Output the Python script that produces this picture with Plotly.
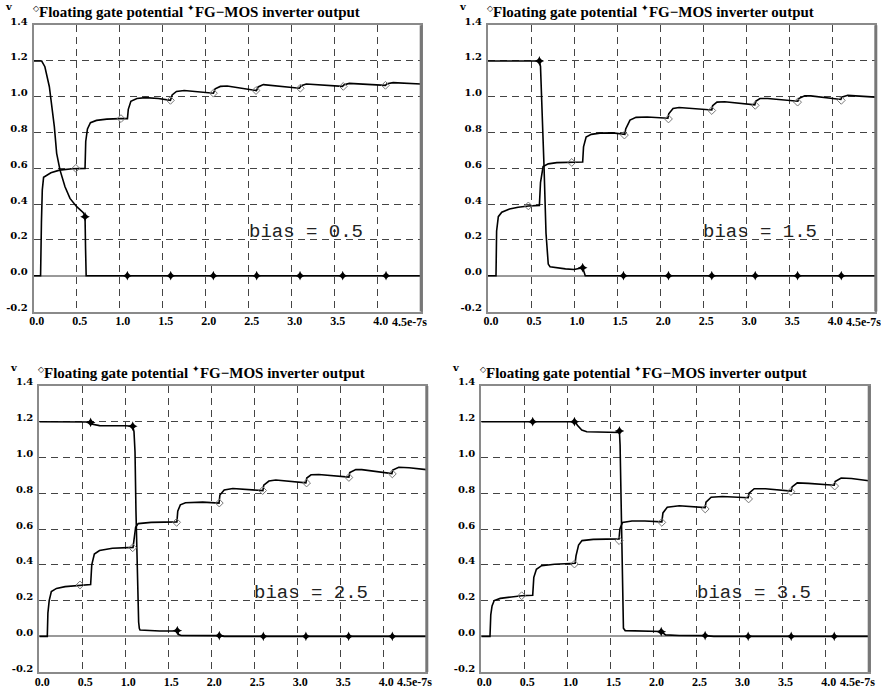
import plotly.graph_objects as go

# ---------------- data (time in units of 1e-7 s, voltage in V) ----------------
bias_labels = ["bias = 0.5", "bias = 1.5", "bias = 2.5", "bias = 3.5"]

# bias = 0.5
fg_t_05 = [0, 0.08, 0.09, 0.10, 0.115, 0.2, 0.3, 0.45, 0.597, 0.605, 0.625, 0.66, 0.73, 0.85, 1.0, 1.09,
           1.10, 1.13, 1.2, 1.3, 1.45, 1.59, 1.61, 1.66, 1.75, 2.09, 2.11, 2.17, 2.25, 2.59, 2.61, 2.67,
           3.09, 3.11, 3.17, 3.59, 3.61, 3.67, 4.09, 4.11, 4.18, 4.5]
fg_v_05 = [0, 0, 0.30, 0.48, 0.55, 0.575, 0.59, 0.598, 0.60, 0.75, 0.82, 0.855, 0.868, 0.875, 0.878, 0.878,
           0.93, 0.975, 0.99, 0.995, 0.99, 0.98, 1.01, 1.03, 1.035, 1.02, 1.045, 1.058, 1.06, 1.035, 1.055, 1.068,
           1.048, 1.062, 1.071, 1.058, 1.068, 1.075, 1.064, 1.073, 1.079, 1.071]
fg_mk_t_05 = [0.49, 1.015, 1.59, 2.09, 2.585, 3.10, 3.60, 4.09]
fg_mk_v_05 = [0.60, 0.878, 0.98, 1.02, 1.035, 1.048, 1.058, 1.064]
out_t_05 = [0, 0.093, 0.13, 0.182, 0.24, 0.267, 0.306, 0.364, 0.422, 0.5, 0.577, 0.597, 0.603, 0.61, 4.5]
out_v_05 = [1.2, 1.2, 1.168, 1.056, 0.833, 0.684, 0.59, 0.497, 0.432, 0.386, 0.352, 0.33, 0.15, 0.0, 0.0]
out_mk_t_05 = [0.597, 1.089, 1.593, 2.089, 2.593, 3.097, 3.593, 4.097]
out_mk_v_05 = [0.33, 0, 0, 0, 0, 0, 0, 0]

# bias = 1.5
fg_t_15 = [0, 0.093, 0.10, 0.12, 0.16, 0.25, 0.35, 0.47, 0.597, 0.61, 0.64, 0.7, 0.8, 0.97, 1.10,
           1.11, 1.14, 1.2, 1.3, 1.45, 1.59, 1.60, 1.65, 1.72, 1.85, 2.09, 2.10, 2.15, 2.22, 2.6, 2.61,
           2.66, 2.75, 3.1, 3.11, 3.16, 3.25, 3.6, 3.61, 3.68, 3.75, 4.1, 4.11, 4.18, 4.5]
fg_v_15 = [0, 0, 0.25, 0.33, 0.355, 0.373, 0.383, 0.39, 0.393, 0.52, 0.61, 0.625, 0.632, 0.635, 0.635,
           0.72, 0.775, 0.79, 0.797, 0.798, 0.79, 0.82, 0.87, 0.885, 0.887, 0.88, 0.905, 0.935, 0.94, 0.926, 0.95,
           0.97, 0.972, 0.955, 0.975, 0.99, 0.99, 0.975, 0.99, 1.005, 1.005, 0.985, 0.998, 1.008, 0.998]
fg_mk_t_15 = [0.469, 0.973, 1.585, 2.097, 2.60, 3.105, 3.597, 4.105]
fg_mk_v_15 = [0.39, 0.633, 0.786, 0.876, 0.923, 0.952, 0.97, 0.98]
out_t_15 = [0, 0.597, 0.61, 0.624, 0.64, 0.651, 0.674, 0.69, 0.70, 0.721, 0.8, 0.9, 1.0, 1.08, 1.10, 1.13, 4.5]
out_v_15 = [1.2, 1.2, 1.17, 1.0, 0.75, 0.609, 0.237, 0.1, 0.065, 0.05, 0.043, 0.038, 0.035, 0.04, 0.045, 0.0, 0.0]
out_mk_t_15 = [0.597, 1.10, 1.574, 2.097, 2.60, 3.105, 3.597, 4.105]
out_mk_v_15 = [1.2, 0.045, 0, 0, 0, 0, 0, 0]

# bias = 2.5
fg_t_25 = [0, 0.093, 0.10, 0.115, 0.14, 0.2, 0.3, 0.45, 0.597, 0.61, 0.64, 0.7, 0.85, 1.09, 1.10, 1.12,
           1.15, 1.3, 1.6, 1.61, 1.64, 1.7, 1.9, 2.09, 2.10, 2.15, 2.25, 2.6, 2.61, 2.67, 2.75, 3.1, 3.11,
           3.16, 3.25, 3.6, 3.61, 3.68, 3.75, 4.1, 4.11, 4.18, 4.3, 4.5]
fg_v_25 = [0, 0, 0.13, 0.2, 0.25, 0.268, 0.278, 0.285, 0.29, 0.40, 0.46, 0.48, 0.492, 0.497, 0.55, 0.61,
           0.63, 0.637, 0.64, 0.70, 0.735, 0.747, 0.75, 0.745, 0.79, 0.818, 0.826, 0.815, 0.845, 0.868, 0.874, 0.858, 0.885,
           0.903, 0.905, 0.89, 0.915, 0.932, 0.932, 0.91, 0.93, 0.945, 0.942, 0.932]
fg_mk_t_25 = [0.473, 1.086, 1.597, 2.093, 2.597, 3.108, 3.60, 4.105]
fg_mk_v_25 = [0.287, 0.495, 0.637, 0.745, 0.815, 0.857, 0.888, 0.908]
out_t_25 = [0, 0.597, 0.62, 0.7, 1.0, 1.086, 1.101, 1.113, 1.124, 1.14, 1.155, 1.163, 1.171, 1.4, 1.605,
            1.62, 1.65, 2.093, 2.15, 4.5]
out_v_25 = [1.2, 1.198, 1.185, 1.178, 1.177, 1.175, 1.144, 1.03, 0.70, 0.32, 0.08, 0.045, 0.035, 0.03, 0.03,
            0.01, 0.005, 0.004, 0.0, 0.0]
out_mk_t_25 = [0.597, 1.086, 1.605, 2.093, 2.605, 3.10, 3.597, 4.105]
out_mk_v_25 = [1.196, 1.175, 0.032, 0.004, 0, 0, 0, 0]

# bias = 3.5
fg_t_35 = [0, 0.101, 0.11, 0.125, 0.15, 0.22, 0.35, 0.47, 0.597, 0.61, 0.64, 0.7, 0.85, 1.09, 1.10, 1.13,
           1.17, 1.3, 1.6, 1.61, 1.64, 1.75, 1.9, 2.097, 2.11, 2.16, 2.3, 2.6, 2.61, 2.67, 2.8, 3.1, 3.11,
           3.17, 3.3, 3.6, 3.61, 3.67, 3.8, 4.1, 4.11, 4.18, 4.3, 4.5]
fg_v_35 = [0, 0, 0.12, 0.17, 0.2, 0.212, 0.22, 0.227, 0.23, 0.33, 0.375, 0.395, 0.403, 0.408, 0.45, 0.51,
           0.535, 0.542, 0.545, 0.60, 0.636, 0.645, 0.645, 0.64, 0.69, 0.722, 0.73, 0.72, 0.75, 0.778, 0.782, 0.775, 0.80,
           0.825, 0.825, 0.812, 0.835, 0.858, 0.855, 0.845, 0.865, 0.885, 0.882, 0.87]
fg_mk_t_35 = [0.469, 1.082, 1.601, 2.097, 2.601, 3.105, 3.597, 4.105]
fg_mk_v_35 = [0.227, 0.404, 0.535, 0.637, 0.712, 0.768, 0.809, 0.84]
out_t_35 = [0, 1.09, 1.116, 1.167, 1.225, 1.4, 1.605, 1.612, 1.624, 1.64, 1.651, 1.671, 1.9, 2.09, 2.14,
            2.3, 2.6, 2.7, 4.5]
out_v_35 = [1.2, 1.2, 1.18, 1.153, 1.144, 1.142, 1.14, 1.07, 0.697, 0.324, 0.045, 0.032, 0.03, 0.027, 0.008,
            0.005, 0.004, 0.0, 0.0]
out_mk_t_35 = [0.597, 1.082, 1.605, 2.09, 2.60, 3.10, 3.60, 4.10]
out_mk_v_35 = [1.2, 1.2, 1.148, 0.026, 0.004, 0, 0, 0]

x_range = [0, 4.5]
y_range = [-0.2, 1.4]
x_last_label = "4.5e-7s"

panels = [
    (fg_t_05, fg_v_05, fg_mk_t_05, fg_mk_v_05, out_t_05, out_v_05, out_mk_t_05, out_mk_v_05),
    (fg_t_15, fg_v_15, fg_mk_t_15, fg_mk_v_15, out_t_15, out_v_15, out_mk_t_15, out_mk_v_15),
    (fg_t_25, fg_v_25, fg_mk_t_25, fg_mk_v_25, out_t_25, out_v_25, out_mk_t_25, out_mk_v_25),
    (fg_t_35, fg_v_35, fg_mk_t_35, fg_mk_v_35, out_t_35, out_v_35, out_mk_t_35, out_mk_v_35),
]

# ---------------- layout geometry (pixels) ----------------
W, H = 881, 690
boxes = [  # left, right, top, bottom in px
    (33.7, 420.7, 25.2, 311.5),
    (488.0, 875.3, 25.2, 311.5),
    (39.3, 426.3, 385.9, 672.1),
    (481.3, 868.7, 385.9, 672.1),
]

Y_TICK_FONT = dict(family="DejaVu Serif", size=10, color="black", weight="bold")
X_TICK_FONT = dict(family="Liberation Serif", size=12, color="black", weight="bold")
fig = go.Figure()
layout = dict(
    width=W, height=H, margin=dict(l=0, r=0, t=0, b=0, autoexpand=False),
    paper_bgcolor="white", plot_bgcolor="white", showlegend=False,
    annotations=[], shapes=[], font=dict(family="Liberation Serif"),
)

title_html = ('<sup><span style="font-size:8px">◇</span></sup><b>Floating gate potential</b> '
              '<sup><span style="font-size:9px">✦</span></sup><b>FG−MOS inverter output</b>')

for i, (p, box) in enumerate(zip(panels, boxes)):
    fgt, fgv, fgmt, fgmv, ot, ov, omt, omv = p
    n = "" if i == 0 else str(i + 1)
    xa, ya = "x" + n, "y" + n
    m = str(i + 5)  # overlay axes carrying the small ticks
    l, r, t, b = box
    xdom = [l / W, r / W]
    ydom = [1 - b / H, 1 - t / H]
    fig.add_trace(go.Scatter(x=fgt, y=fgv, mode="lines", line=dict(color="black", width=1.6),
                             xaxis=xa, yaxis=ya, hoverinfo="skip"))
    fig.add_trace(go.Scatter(x=ot, y=ov, mode="lines", line=dict(color="black", width=1.6),
                             xaxis=xa, yaxis=ya, hoverinfo="skip"))
    fig.add_trace(go.Scatter(x=fgmt, y=fgmv, mode="markers",
                             marker=dict(symbol="diamond-open", size=6, color="#777", line=dict(width=1)),
                             xaxis=xa, yaxis=ya))
    fig.add_trace(go.Scatter(x=omt, y=omv, mode="markers",
                             marker=dict(symbol="star-diamond", size=7, color="black"),
                             xaxis=xa, yaxis=ya))
    layout["xaxis" + n] = dict(
        domain=xdom, range=x_range, anchor=ya,
        tickmode="linear", tick0=0, dtick=0.5, tickformat=".1f",
        labelalias={"4.5": "\u00a0"},
        tickfont=X_TICK_FONT, ticklabelshift=3, ticklabelstandoff=-3,
        ticks="", showgrid=True, gridcolor="#444", griddash="7px,5px", gridwidth=1,
        showline=True, mirror=True, linecolor="#8a8a8a", linewidth=2, zeroline=False,
    )
    layout["yaxis" + n] = dict(
        domain=ydom, range=y_range, anchor=xa,
        tickmode="linear", tick0=0, dtick=0.2, tickformat=".1f",
        labelalias={"−0.2": "-0.2"},
        tickfont=Y_TICK_FONT, ticklabelshift=-4, ticklabelstandoff=2,
        ticks="", showgrid=True, gridcolor="#444", griddash="7px,5px", gridwidth=1,
        showline=True, mirror=True, linecolor="#8a8a8a", linewidth=2,
        zeroline=True, zerolinecolor="#999", zerolinewidth=1.5,
    )
    # overlay axes that only draw the small inside ticks
    layout["xaxis" + m] = dict(
        overlaying=xa, anchor=ya, side="bottom", range=x_range,
        tickmode="linear", tick0=0, dtick=0.5 / 6, ticks="inside", ticklen=5, tickwidth=1,
        tickcolor="black", showticklabels=False, showgrid=False, zeroline=False, showline=False,
    )
    layout["yaxis" + m] = dict(
        overlaying=ya, anchor=xa, side="left", range=y_range,
        tickmode="linear", tick0=0, dtick=0.1, ticks="inside", ticklen=5, tickwidth=1,
        tickcolor="black", showticklabels=False, showgrid=False, zeroline=False, showline=False,
    )
    # darker, thicker right edge of the frame
    layout["shapes"].append(dict(type="rect", xref=xa + " domain", yref=ya + " domain",
                                 xsizemode="pixel", xanchor=1, x0=-1, x1=2, y0=0, y1=1,
                                 fillcolor="#777", line=dict(width=0), layer="above"))
    layout["annotations"] += [
        dict(xref=xa + " domain", yref=ya + " domain", x=0, y=1, xanchor="left", yanchor="bottom",
             xshift=-3, yshift=3, showarrow=False, text=title_html,
             font=dict(family="Liberation Serif", size=15, color="black")),
        dict(xref=xa + " domain", yref=ya + " domain", x=0, y=1, xanchor="center", yanchor="bottom",
             xshift=-25, yshift=11, showarrow=False, text="v",
             font=dict(family="DejaVu Serif", size=10, color="black", weight="bold")),
        dict(xref=xa, yref=ya + " domain", x=4.5, y=0, xanchor="right", yanchor="top",
             xshift=8, yshift=-1, showarrow=False, text=x_last_label,
             font=X_TICK_FONT),
        dict(xref=xa, yref=ya, x=2.5, y=0.245, xanchor="left", yanchor="middle", showarrow=False,
             xshift=-2, text=bias_labels[i], font=dict(family="Liberation Mono", size=19, color="#222")),
    ]

fig.update_layout(**layout)
fig.write_html("out.html", config={"displayModeBar": False},
               post_script="document.body.style.margin='0';document.body.style.overflow='hidden';")
